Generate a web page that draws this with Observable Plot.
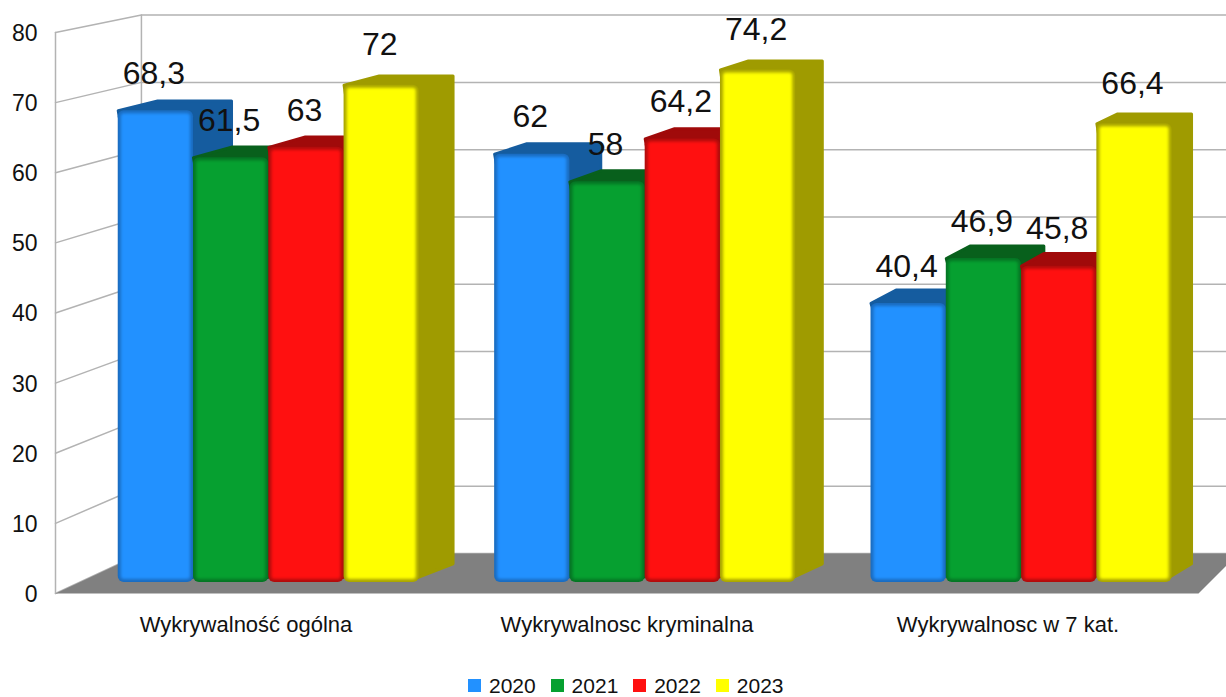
<!DOCTYPE html>
<html lang="pl">
<head>
<meta charset="utf-8">
<title>Wykrywalność</title>
<script src="https://cdn.jsdelivr.net/npm/d3@7"></script>
<script src="https://cdn.jsdelivr.net/npm/@observablehq/plot@0.6"></script>
<style>
  html, body { margin: 0; padding: 0; background: #fff; overflow: hidden; }
  svg { display: block; }
  #legend { display: flex; height: 23px; padding: 4px 0 0 468px; align-items: center;
            font: 21px "Liberation Sans", sans-serif; color: #111; }
  #legend .item { display: flex; align-items: center; width: 82.6px; }
  #legend .sw { width: 13px; height: 13px; margin-right: 8px; flex: none; }
</style>
</head>
<body>
<div id="chart"></div>
<div id="legend"></div>
<script>
const categories = ["Wykrywalność ogólna", "Wykrywalnosc kryminalna", "Wykrywalnosc w 7 kat."];
const years = ["2020", "2021", "2022", "2023"];
const values2020 = [68.3, 62, 40.4];
const values2021 = [61.5, 58, 46.9];
const values2022 = [63, 64.2, 45.8];
const values2023 = [72, 74.2, 66.4];
const series = [values2020, values2021, values2022, values2023];
const yTicks = [0, 10, 20, 30, 40, 50, 60, 70, 80];

const faceColors = ["#2291ff", "#06a030", "#ff1010", "#ffff00"];
const edgeColors = ["#1a6cc0", "#057524", "#b00c0c", "#a8a400"];
const sideColors = ["#155c9f", "#08601c", "#a00a0a", "#9f9b00"];

// Oblique perspective of the 3D chart, expressed in data units (category index, value)
const vanish = {x: 5.61, y: 141.8};
const wallDepth = 0.0402, barFrontDepth = 0.0121, barDepth = 0.019;
const barBase = 1.57, barScale = 0.985, barWidth = 0.2, groupInset = 0.098;
const toward = (p, t) => ({x: p.x + t * (vanish.x - p.x), y: p.y + t * (vanish.y - p.y)});

const bars = [];
categories.forEach((cat, c) => years.forEach((year, s) => {
  const v = series[s][c];
  const left = c + groupInset + s * barWidth;
  const fx = x => x + barFrontDepth * (vanish.x - x);
  const x1 = fx(left), x2 = fx(left + barWidth);
  const y1 = barBase, y2 = barBase + barScale * v;
  const hull = [
    {x: x1, y: y2},
    toward({x: x1, y: y2}, barDepth),
    toward({x: x2, y: y2}, barDepth),
    toward({x: x2, y: y1}, barDepth),
    {x: x2 - 0.015, y: y1 + 0.5},
    {x: (x1 + x2) / 2, y: (y1 + y2) / 2}
  ];
  bars.push({c, s, v, x1, x2, y1, y2, hull, label: String(v).replace(".", ",")});
}));

const wallLines = yTicks.map(v => {
  const back = toward({x: 0, y: v}, wallDepth);
  return [{x: 0, y: v}, back, {x: 3.2, y: back.y}];
});
const leftEdge = [{x: 0, y: 0}, {x: 0, y: 80}];
const backEdge = [toward({x: 0, y: 0}, wallDepth), toward({x: 0, y: 80}, wallDepth)];
const floorPts = [{x: 0, y: 0}, toward({x: 0, y: 0}, wallDepth), toward({x: 3, y: 0}, wallDepth), {x: 3, y: 0}];

const gridOpts = {x: "x", y: "y", stroke: "#b3b3b3", strokeWidth: 1.5};
const raised = new Set(["72", "74,2", "66,4"]);
const labelOpts = {x: d => (d.x1 + d.x2) / 2, y: "y2", text: "label", dx: -2, fontSize: 32, fill: "#111"};

const chart = Plot.plot({
  width: 1226, height: 670,
  marginLeft: 55, marginRight: 28, marginTop: 32, marginBottom: 77,
  style: {fontFamily: '"Liberation Sans", sans-serif', background: "#fff", color: "#111"},
  x: {type: "linear", domain: [0, 3]},
  y: {type: "linear", domain: [0, 80]},
  marks: [
    ...wallLines.map(l => Plot.line(l, gridOpts)),
    Plot.line(leftEdge, gridOpts),
    Plot.line(backEdge, gridOpts),
    Plot.line(floorPts, {x: "x", y: "y", fill: "#808080", stroke: "none", curve: "linear-closed"}),
    Plot.axisY({ticks: yTicks, tickSize: 0, tickPadding: 18, fontSize: 23, dy: 1, label: null, anchor: "left"}),
    Plot.axisX({ticks: [0.5, 1.5, 2.5], tickFormat: i => categories[i - 0.5], tickSize: 0, tickPadding: 23, fontSize: 22, label: null, anchor: "bottom"}),
    ...bars.flatMap(b => [
      Plot.line(b.hull, {x: "x", y: "y", fill: sideColors[b.s], stroke: sideColors[b.s], strokeWidth: 3, strokeLinejoin: "round", curve: "linear-closed"}),
      Plot.rect([b], {x1: "x1", x2: "x2", y1: "y1", y2: "y2", fill: edgeColors[b.s], rx: 6}),
      Plot.rect([b], {x1: "x1", x2: "x2", y1: "y1", y2: "y2", fill: faceColors[b.s], rx: 3, inset: 3, imageFilter: "blur(1.8px)"})
    ]),
    Plot.text(bars.filter(d => !raised.has(d.label)), {...labelOpts, dy: -37}),
    Plot.text(bars.filter(d => raised.has(d.label)), {...labelOpts, dy: -40})
  ]
});
document.getElementById("chart").append(chart);

const legend = document.getElementById("legend");
years.forEach((year, i) => {
  const item = document.createElement("div");
  item.className = "item";
  const sw = document.createElement("span");
  sw.className = "sw";
  sw.style.background = faceColors[i];
  const t = document.createElement("span");
  t.textContent = year;
  item.append(sw, t);
  legend.append(item);
});
</script>
</body>
</html>
